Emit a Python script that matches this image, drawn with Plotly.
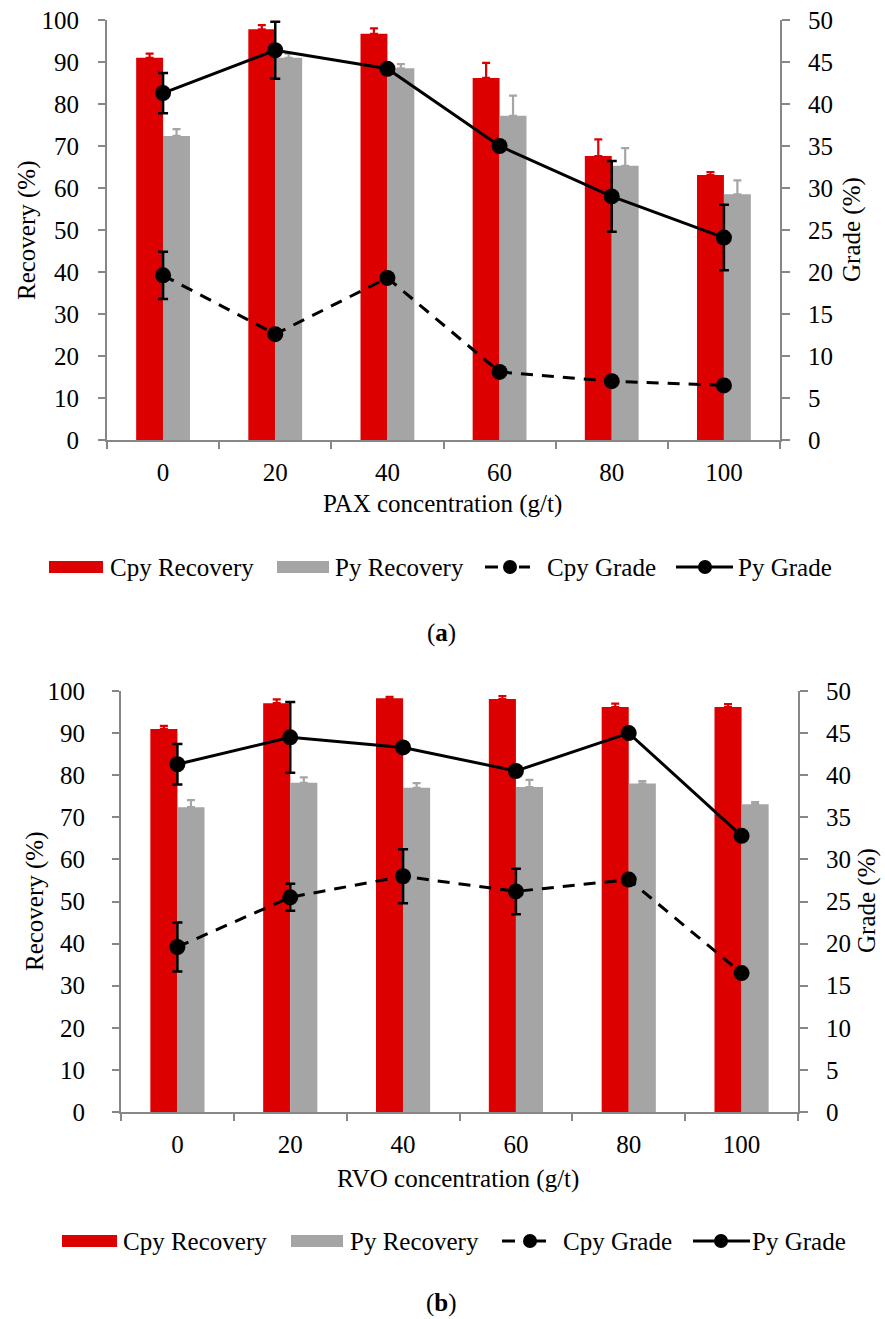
import plotly.graph_objects as go

W, H = 885, 1319

# ---------------- data ----------------
categories = ["0", "20", "40", "60", "80", "100"]

# (a) PAX
pax_cpy_rec = [91.0, 97.8, 96.7, 86.2, 67.6, 63.1]
pax_cpy_rec_err = [1.0, 1.0, 1.3, 3.6, 4.0, 0.7]
pax_py_rec = [72.4, 91.0, 88.5, 77.2, 65.3, 58.5]
pax_py_rec_err = [1.6, 1.0, 1.0, 4.8, 4.2, 3.3]
pax_cpy_grade = [19.6, 12.6, 19.3, 8.1, 7.0, 6.5]
pax_cpy_grade_err = [2.8, 0, 0, 0, 0, 0]
pax_py_grade = [41.3, 46.4, 44.2, 35.0, 29.0, 24.1]
pax_py_grade_err = [2.4, 3.4, 0, 0, 4.2, 3.9]

# (b) RVO
rvo_cpy_rec = [91.0, 97.1, 98.3, 98.1, 96.2, 96.2]
rvo_cpy_rec_err = [0.7, 0.9, 0.3, 0.7, 0.8, 0.7]
rvo_py_rec = [72.4, 78.2, 77.0, 77.2, 78.0, 73.1]
rvo_py_rec_err = [1.7, 1.3, 1.1, 1.7, 0.6, 0.5]
rvo_cpy_grade = [19.6, 25.5, 28.0, 26.2, 27.6, 16.5]
rvo_cpy_grade_err = [2.9, 1.6, 3.2, 2.7, 0, 0]
rvo_py_grade = [41.3, 44.5, 43.3, 40.5, 45.0, 32.8]
rvo_py_grade_err = [2.4, 4.2, 0, 0, 0, 0]

RED = "#DD0000"
GRAY = "#A5A5A5"
AXC = "#878787"
FONT = "Liberation Serif"


def px_x(x):
    return x / W


def px_y(y):
    return 1 - y / H


fig = go.Figure()


def add_panel(xa, ya, ya2, cpy_rec, cpy_rec_err, py_rec, py_rec_err,
              cpy_g, cpy_g_err, py_g, py_g_err):
    fig.add_trace(go.Bar(
        x=categories, y=cpy_rec, name="Cpy Recovery", marker=dict(color=RED, line=dict(width=0)),
        error_y=dict(type="data", array=cpy_rec_err, arrayminus=[0] * 6, symmetric=False,
                     color=RED, thickness=2.2, width=4),
        xaxis=xa, yaxis=ya, showlegend=False))
    fig.add_trace(go.Bar(
        x=categories, y=py_rec, name="Py Recovery", marker=dict(color=GRAY, line=dict(width=0)),
        error_y=dict(type="data", array=py_rec_err, arrayminus=[0] * 6, symmetric=False,
                     color=GRAY, thickness=2.2, width=4),
        xaxis=xa, yaxis=ya, showlegend=False))
    fig.add_trace(go.Scatter(
        x=categories, y=cpy_g, name="Cpy Grade", mode="lines+markers",
        line=dict(color="black", width=3, dash="12px,9px"),
        marker=dict(color="black", size=16),
        error_y=dict(type="data", array=cpy_g_err, color="black", thickness=2.5, width=5),
        xaxis=xa, yaxis=ya2, showlegend=False))
    fig.add_trace(go.Scatter(
        x=categories, y=py_g, name="Py Grade", mode="lines+markers",
        line=dict(color="black", width=3),
        marker=dict(color="black", size=16),
        error_y=dict(type="data", array=py_g_err, color="black", thickness=2.5, width=5),
        xaxis=xa, yaxis=ya2, showlegend=False))


add_panel("x", "y", "y2", pax_cpy_rec, pax_cpy_rec_err, pax_py_rec, pax_py_rec_err,
          pax_cpy_grade, pax_cpy_grade_err, pax_py_grade, pax_py_grade_err)
add_panel("x2", "y3", "y4", rvo_cpy_rec, rvo_cpy_rec_err, rvo_py_rec, rvo_py_rec_err,
          rvo_cpy_grade, rvo_cpy_grade_err, rvo_py_grade, rvo_py_grade_err)

tickfont = dict(family=FONT, size=25, color="black")

xcommon = dict(type="category", tickson="boundaries", ticks="outside", ticklen=7,
               tickwidth=2, tickcolor=AXC, showline=True, linecolor=AXC, linewidth=2,
               showgrid=False, zeroline=False, tickfont=tickfont, automargin=False)
yleft = dict(range=[0, 100], dtick=10, ticks="outside", ticklen=7, tickwidth=2,
             tickcolor=AXC, showline=True, linecolor=AXC, linewidth=2, showgrid=False,
             zeroline=False, tickfont=tickfont, automargin=False)
yright = dict(range=[0, 50], dtick=5, ticks="outside", ticklen=8, tickwidth=2,
              tickcolor=AXC, showline=True, linecolor=AXC, linewidth=2, showgrid=False,
              zeroline=False, tickfont=tickfont, side="right", automargin=False)

fig.update_layout(
    template="none",
    width=W, height=H, margin=dict(l=0, r=0, t=0, b=0, pad=0), autosize=False,
    paper_bgcolor="white", plot_bgcolor="white",
    barmode="group", bargap=0.52, bargroupgap=0,
    font=dict(family=FONT, color="black", size=25),
    xaxis=dict(domain=[px_x(107), px_x(780)], anchor="y", ticklabelstandoff=9, **xcommon),
    yaxis=dict(domain=[px_y(440), px_y(20)], anchor="x", ticklabelstandoff=14, **yleft),
    yaxis2=dict(overlaying="y", anchor="x", ticklabelstandoff=13, **yright),
    xaxis2=dict(domain=[px_x(121), px_x(798)], anchor="y3", ticklabelstandoff=9, **xcommon),
    yaxis3=dict(domain=[px_y(1112), px_y(691)], anchor="x2", ticklabelstandoff=22, **yleft),
    yaxis4=dict(overlaying="y3", anchor="x2", ticklabelstandoff=13, **yright),
    showlegend=False,
)

ann = []
shapes = []


def text(x, y, s, angle=0, xanchor="center", size=25):
    ann.append(dict(x=px_x(x), y=px_y(y), xref="paper", yref="paper", text=s,
                    showarrow=False, xanchor=xanchor, yanchor="middle", textangle=angle,
                    font=dict(family=FONT, size=size, color="black")))


# axis titles
text(442, 504, "PAX concentration (g/t)")
text(27, 230, "Recovery (%)", angle=-90)
text(852, 230, "Grade (%)", angle=-90)
text(458, 1179, "RVO concentration (g/t)")
text(35, 901, "Recovery (%)", angle=-90)
text(867, 901, "Grade (%)", angle=-90)

# panel labels
text(441, 633, "(<b>a</b>)")
text(441, 1303, "(<b>b</b>)")


def legend(y, rx, gx, cx, px_, tx):
    shapes.append(dict(type="rect", xref="paper", yref="paper", x0=px_x(rx[0]), x1=px_x(rx[1]),
                       y0=px_y(y - 6), y1=px_y(y + 6), fillcolor=RED, line=dict(width=0)))
    shapes.append(dict(type="rect", xref="paper", yref="paper", x0=px_x(gx[0]), x1=px_x(gx[1]),
                       y0=px_y(y - 6), y1=px_y(y + 6), fillcolor=GRAY, line=dict(width=0)))
    c0, cm, c1 = cx
    shapes.append(dict(type="line", xref="paper", yref="paper", x0=px_x(c0), x1=px_x(c0 + 13),
                       y0=px_y(y), y1=px_y(y), line=dict(color="black", width=3)))
    shapes.append(dict(type="line", xref="paper", yref="paper", x0=px_x(c1 - 11), x1=px_x(c1),
                       y0=px_y(y), y1=px_y(y), line=dict(color="black", width=3)))
    shapes.append(dict(type="circle", xref="paper", yref="paper", x0=px_x(cm - 7), x1=px_x(cm + 7),
                       y0=px_y(y + 7), y1=px_y(y - 7), fillcolor="black", line=dict(width=0)))
    p0, pm, p1 = px_
    shapes.append(dict(type="line", xref="paper", yref="paper", x0=px_x(p0), x1=px_x(p1),
                       y0=px_y(y), y1=px_y(y), line=dict(color="black", width=3)))
    shapes.append(dict(type="circle", xref="paper", yref="paper", x0=px_x(pm - 7), x1=px_x(pm + 7),
                       y0=px_y(y + 7), y1=px_y(y - 7), fillcolor="black", line=dict(width=0)))
    labels = ["Cpy Recovery", "Py Recovery", "Cpy Grade", "Py Grade"]
    for t, lx in zip(labels, tx):
        text(lx, y, t, xanchor="left")


legend(567, (49, 103), (277, 329), (485, 510, 530), (676, 705, 733), (108, 333, 545, 736))
legend(1241, (62, 117), (291, 343), (502, 530, 546), (693, 721, 750), (121, 348, 561, 750))

fig.update_layout(annotations=ann, shapes=shapes)

fig.write_html("out.html")
